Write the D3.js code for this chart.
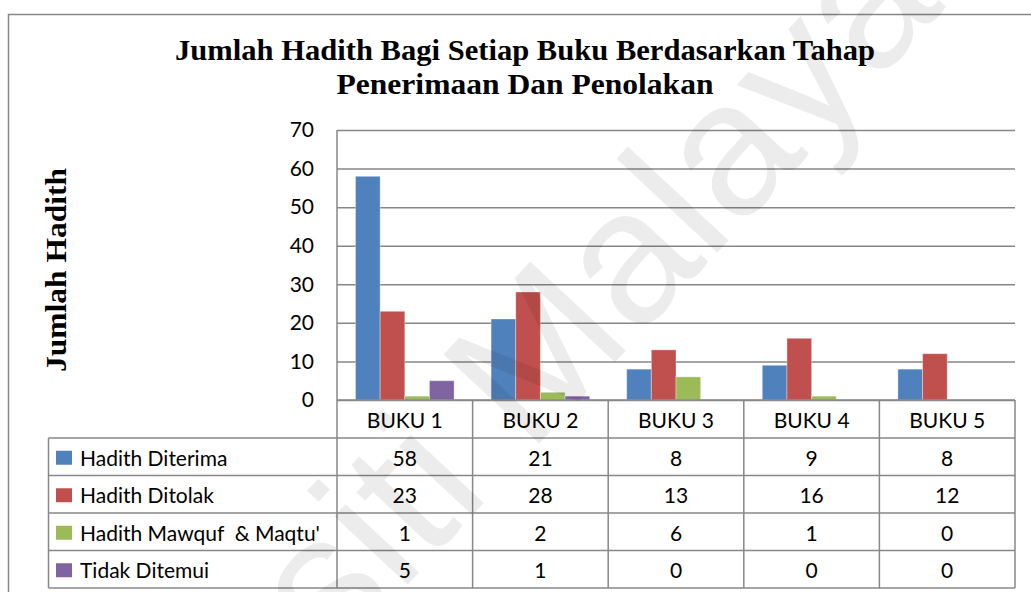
<!DOCTYPE html>
<meta charset="utf-8">
<script src="https://d3js.org/d3.v7.min.js"></script>
<style>
  body { margin: 0; background: #fff; }
  svg text { font-family: Lato, "Open Sans", sans-serif; fill: #000; }
  .title, .ytitle { font-family: "Liberation Serif", "DejaVu Serif", serif; font-weight: bold; }
  .grid line { stroke: #878787; stroke-width: 1.5; }
  .grid path { stroke: none; }
  .ylab path { stroke: none; }
</style>
<div id="chart"></div>
<script>
// chart data
var categories = ["BUKU 1", "BUKU 2", "BUKU 3", "BUKU 4", "BUKU 5"];
var seriesNames = ["Hadith Diterima", "Hadith Ditolak", "Hadith Mawquf  & Maqtu'", "Tidak Ditemui"];
var diterima = [58, 21, 8, 9, 8];
var ditolak = [23, 28, 13, 16, 12];
var mawquf = [1, 2, 6, 1, 0];
var tidakDitemui = [5, 1, 0, 0, 0];
var seriesColors = ["#4f81bd", "#c0504d", "#9bbb59", "#8064a2"];
var yTicks = [0, 10, 20, 30, 40, 50, 60, 70];

var seriesValues = [diterima, ditolak, mawquf, tidakDitemui];

var W = 1031, H = 592;
var plot = {left: 337, right: 1015, top: 130, bottom: 400};
var tableLeft = 48.5, headerBottom = 438, tableBottom = 588;

var svg = d3.select("#chart").append("svg")
    .attr("width", W)
    .attr("height", H);

// outer chart frame (runs off the picture on the right and bottom)
svg.append("rect")
    .attr("x", 8.5).attr("y", 14.5)
    .attr("width", 1060).attr("height", 620)
    .attr("fill", "#fff")
    .attr("stroke", "#878787")
    .attr("stroke-width", 1.5);

// title
var title = svg.append("text")
    .attr("class", "title")
    .attr("text-anchor", "middle")
    .style("font-size", "29px");
title.append("tspan").attr("x", 525).attr("y", 60)
    .attr("textLength", 700).attr("lengthAdjust", "spacingAndGlyphs")
    .text("Jumlah Hadith Bagi Setiap Buku Berdasarkan Tahap");
title.append("tspan").attr("x", 525).attr("y", 94)
    .attr("textLength", 377).attr("lengthAdjust", "spacingAndGlyphs")
    .text("Penerimaan Dan Penolakan");

svg.append("text")
    .attr("class", "ytitle")
    .attr("transform", "translate(66,270) rotate(-90)")
    .attr("text-anchor", "middle")
    .attr("textLength", 204).attr("lengthAdjust", "spacingAndGlyphs")
    .style("font-size", "29px")
    .text("Jumlah Hadith");

// scales
var x = d3.scaleBand()
    .domain(categories)
    .range([plot.left, plot.right])
    .padding(0);

var xs = d3.scaleBand()
    .domain(d3.range(seriesNames.length))
    .range([0, x.bandwidth()])
    .paddingInner(0)
    .paddingOuter(0.75);

var y = d3.scaleLinear()
    .domain([0, 70])
    .range([plot.bottom, plot.top]);

// gridlines
svg.append("g")
    .attr("class", "grid")
    .attr("transform", "translate(" + plot.left + ",0)")
    .call(d3.axisLeft(y).tickValues(yTicks).tickSize(-(plot.right - plot.left)).tickFormat(""));

// y tick labels
svg.append("g")
    .attr("class", "ylab")
    .attr("transform", "translate(" + plot.left + ",0)")
    .call(d3.axisLeft(y).tickValues(yTicks).tickSize(0).tickPadding(23))
    .selectAll("text")
    .style("font-size", "21px")
    .style("font-family", "Lato, sans-serif")
    .attr("fill", "#000");

// bars
var groups = svg.append("g").selectAll("g")
    .data(seriesValues)
    .enter().append("g")
    .attr("fill", function(d, i) { return seriesColors[i]; });

groups.selectAll("rect")
    .data(function(d, i) { return d.map(function(v, j) { return {s: i, c: categories[j], v: v}; }); })
    .enter().append("rect")
    .attr("x", function(d) { return x(d.c) + xs(d.s); })
    .attr("y", function(d) { return y(d.v); })
    .attr("width", xs.bandwidth())
    .attr("height", function(d) { return y(0) - y(d.v); })
    .attr("stroke", "#fff")
    .attr("stroke-opacity", 0.35)
    .attr("stroke-width", 1);

// data table
var rows = d3.scaleBand()
    .domain(seriesNames)
    .range([headerBottom, tableBottom]);

var lineColor = "#878787";
var tbl = svg.append("g")
    .attr("stroke", lineColor)
    .attr("stroke-width", 1.5);

// horizontal lines
tbl.append("line")
    .attr("x1", plot.left).attr("x2", plot.right)
    .attr("y1", plot.bottom).attr("y2", plot.bottom);
tbl.selectAll("line.h")
    .data(seriesNames)
    .enter().append("line")
    .attr("class", "h")
    .attr("x1", tableLeft).attr("x2", plot.right)
    .attr("y1", function(d) { return rows(d); })
    .attr("y2", function(d) { return rows(d); });
tbl.append("line")
    .attr("x1", tableLeft).attr("x2", plot.right)
    .attr("y1", tableBottom).attr("y2", tableBottom);

// vertical lines
tbl.append("line")
    .attr("x1", tableLeft).attr("x2", tableLeft)
    .attr("y1", headerBottom).attr("y2", tableBottom);
tbl.append("line")
    .attr("x1", plot.left).attr("x2", plot.left)
    .attr("y1", plot.top).attr("y2", tableBottom);
tbl.selectAll("line.v")
    .data(categories)
    .enter().append("line")
    .attr("class", "v")
    .attr("x1", function(d) { return x(d) + x.bandwidth(); })
    .attr("x2", function(d) { return x(d) + x.bandwidth(); })
    .attr("y1", plot.bottom).attr("y2", tableBottom);

// category header
svg.append("g").selectAll("text")
    .data(categories)
    .enter().append("text")
    .attr("x", function(d) { return x(d) + x.bandwidth() / 2; })
    .attr("y", (plot.bottom + headerBottom) / 2 + 9)
    .attr("text-anchor", "middle")
    .style("font-size", "21px")
    .text(function(d) { return d; });

// legend keys + row labels
var legend = svg.append("g").selectAll("g")
    .data(seriesNames)
    .enter().append("g")
    .attr("transform", function(d) { return "translate(0," + (rows(d) + rows.bandwidth() / 2) + ")"; });

legend.append("rect")
    .attr("x", 56).attr("y", -6)
    .attr("width", 16).attr("height", 14)
    .attr("fill", function(d, i) { return seriesColors[i]; });

legend.append("text")
    .attr("x", 80).attr("y", 9)
    .style("font-size", "21px")
    .style("white-space", "pre")
    .text(function(d) { return d; });

// values
legend.each(function(name, i) {
  d3.select(this).selectAll("text.val")
    .data(seriesValues[i])
    .enter().append("text")
    .attr("class", "val")
    .attr("x", function(v, j) { return x(categories[j]) + x.bandwidth() / 2; })
    .attr("y", 9)
    .attr("text-anchor", "middle")
    .style("font-size", "21px")
    .text(function(v) { return v; });
});

// watermark
svg.append("text")
    .attr("transform", "translate(453,536) rotate(-47)")
    .attr("text-anchor", "middle")
    .style("font-family", "'Liberation Sans', Arial, sans-serif")
    .style("font-size", "190px")
    .style("fill", "#000")
    .style("fill-opacity", 0.075)
    .text("Universiti Malaya");
</script>
